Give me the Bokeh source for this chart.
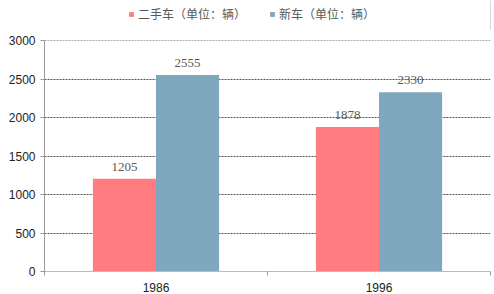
from bokeh.plotting import figure
from bokeh.layouts import column
from bokeh.models import ColumnDataSource, FixedTicker, Legend, LegendItem, LabelSet
from bokeh.embed import file_html
from bokeh.resources import INLINE

years = ["1986", "1996"]
used = [1205, 1878]
new = [2555, 2330]
series_names = ["二手车（单位：辆）", "新车（单位：辆）"]
colors = ["#FF7C80", "#7FA7BE"]
y_ticks = [0, 500, 1000, 1500, 2000, 2500, 3000]

idx = list(range(len(years)))
bw = 0.283
src_used = ColumnDataSource(dict(x=[i + 0.5 - bw / 2 for i in idx], y=used, t=[str(v) for v in used]))
src_new = ColumnDataSource(dict(x=[i + 0.5 + bw / 2 for i in idx], y=new, t=[str(v) for v in new]))

TOP_H = 30
p = figure(width=494, height=294 - TOP_H, output_backend="svg", toolbar_location=None,
           x_range=(0, len(years)), y_range=(0, 3004),
           min_border_left=44, min_border_right=4, min_border_top=10, min_border_bottom=22)
p.outline_line_color = None

r1 = p.vbar(x="x", top="y", width=bw, source=src_used, color=colors[0], line_color=None)
r2 = p.vbar(x="x", top="y", width=bw, source=src_new, color=colors[1], line_color=None)

for s in (src_used, src_new):
    p.add_layout(LabelSet(x="x", y="y", text="t", source=s, text_align="center",
                          y_offset=8, text_font="Liberation Serif", text_font_size="13px",
                          text_color="#595959"))

# y axis
p.yaxis.ticker = FixedTicker(ticks=y_ticks)
p.yaxis.axis_line_color = "#999999"
p.yaxis.major_tick_line_color = "#999999"
p.yaxis.major_tick_out = 4
p.yaxis.major_tick_in = 0
p.yaxis.minor_tick_line_color = None
p.yaxis.major_label_text_font = "Liberation Sans"
p.yaxis.major_label_text_font_size = "12px"
p.yaxis.major_label_text_color = "#222222"
p.yaxis.major_label_standoff = 5

# x axis
p.xaxis.ticker = FixedTicker(ticks=[i + 0.5 for i in idx], minor_ticks=list(range(len(years) + 1)))
p.xaxis.major_label_overrides = {i + 0.5: y for i, y in zip(idx, years)}
p.xaxis.axis_line_color = "#BBBBBB"
p.xaxis.major_tick_line_color = None
p.xaxis.minor_tick_line_color = "#999999"
p.xaxis.minor_tick_out = 4
p.xaxis.minor_tick_in = 0
p.xaxis.major_label_text_font = "Liberation Sans"
p.xaxis.major_label_text_font_size = "12px"
p.xaxis.major_label_text_color = "#222222"
p.xaxis.major_label_standoff = 5

p.xgrid.grid_line_color = None
p.ygrid.ticker = FixedTicker(ticks=y_ticks[1:])
p.ygrid.grid_line_color = "#555555"
p.ygrid.grid_line_dash = "2 1"
p.ygrid.grid_line_width = 1

# legend strip on top
lg = figure(width=494, height=TOP_H, output_backend="svg", toolbar_location=None,
            x_range=(0, 1), y_range=(0, 1), min_border=0)
lg.axis.visible = False
lg.grid.visible = False
lg.outline_line_color = None
e1 = lg.vbar(x=[5], top=[1], width=0.1, color=colors[0], line_color=None)
e2 = lg.vbar(x=[5], top=[1], width=0.1, color=colors[1], line_color=None)
legend = Legend(items=[LegendItem(label=series_names[0], renderers=[e1]),
                       LegendItem(label=series_names[1], renderers=[e2])],
                orientation="horizontal", location=(84, 8),
                glyph_width=6, glyph_height=6, spacing=23, padding=0, margin=0,
                label_text_font="Noto Sans CJK SC", label_text_font_size="12px",
                label_text_color="#595959", label_standoff=4,
                border_line_color=None, background_fill_alpha=0)
lg.add_layout(legend)

open("out.html", "w").write(file_html(column(lg, p, spacing=0), INLINE))
